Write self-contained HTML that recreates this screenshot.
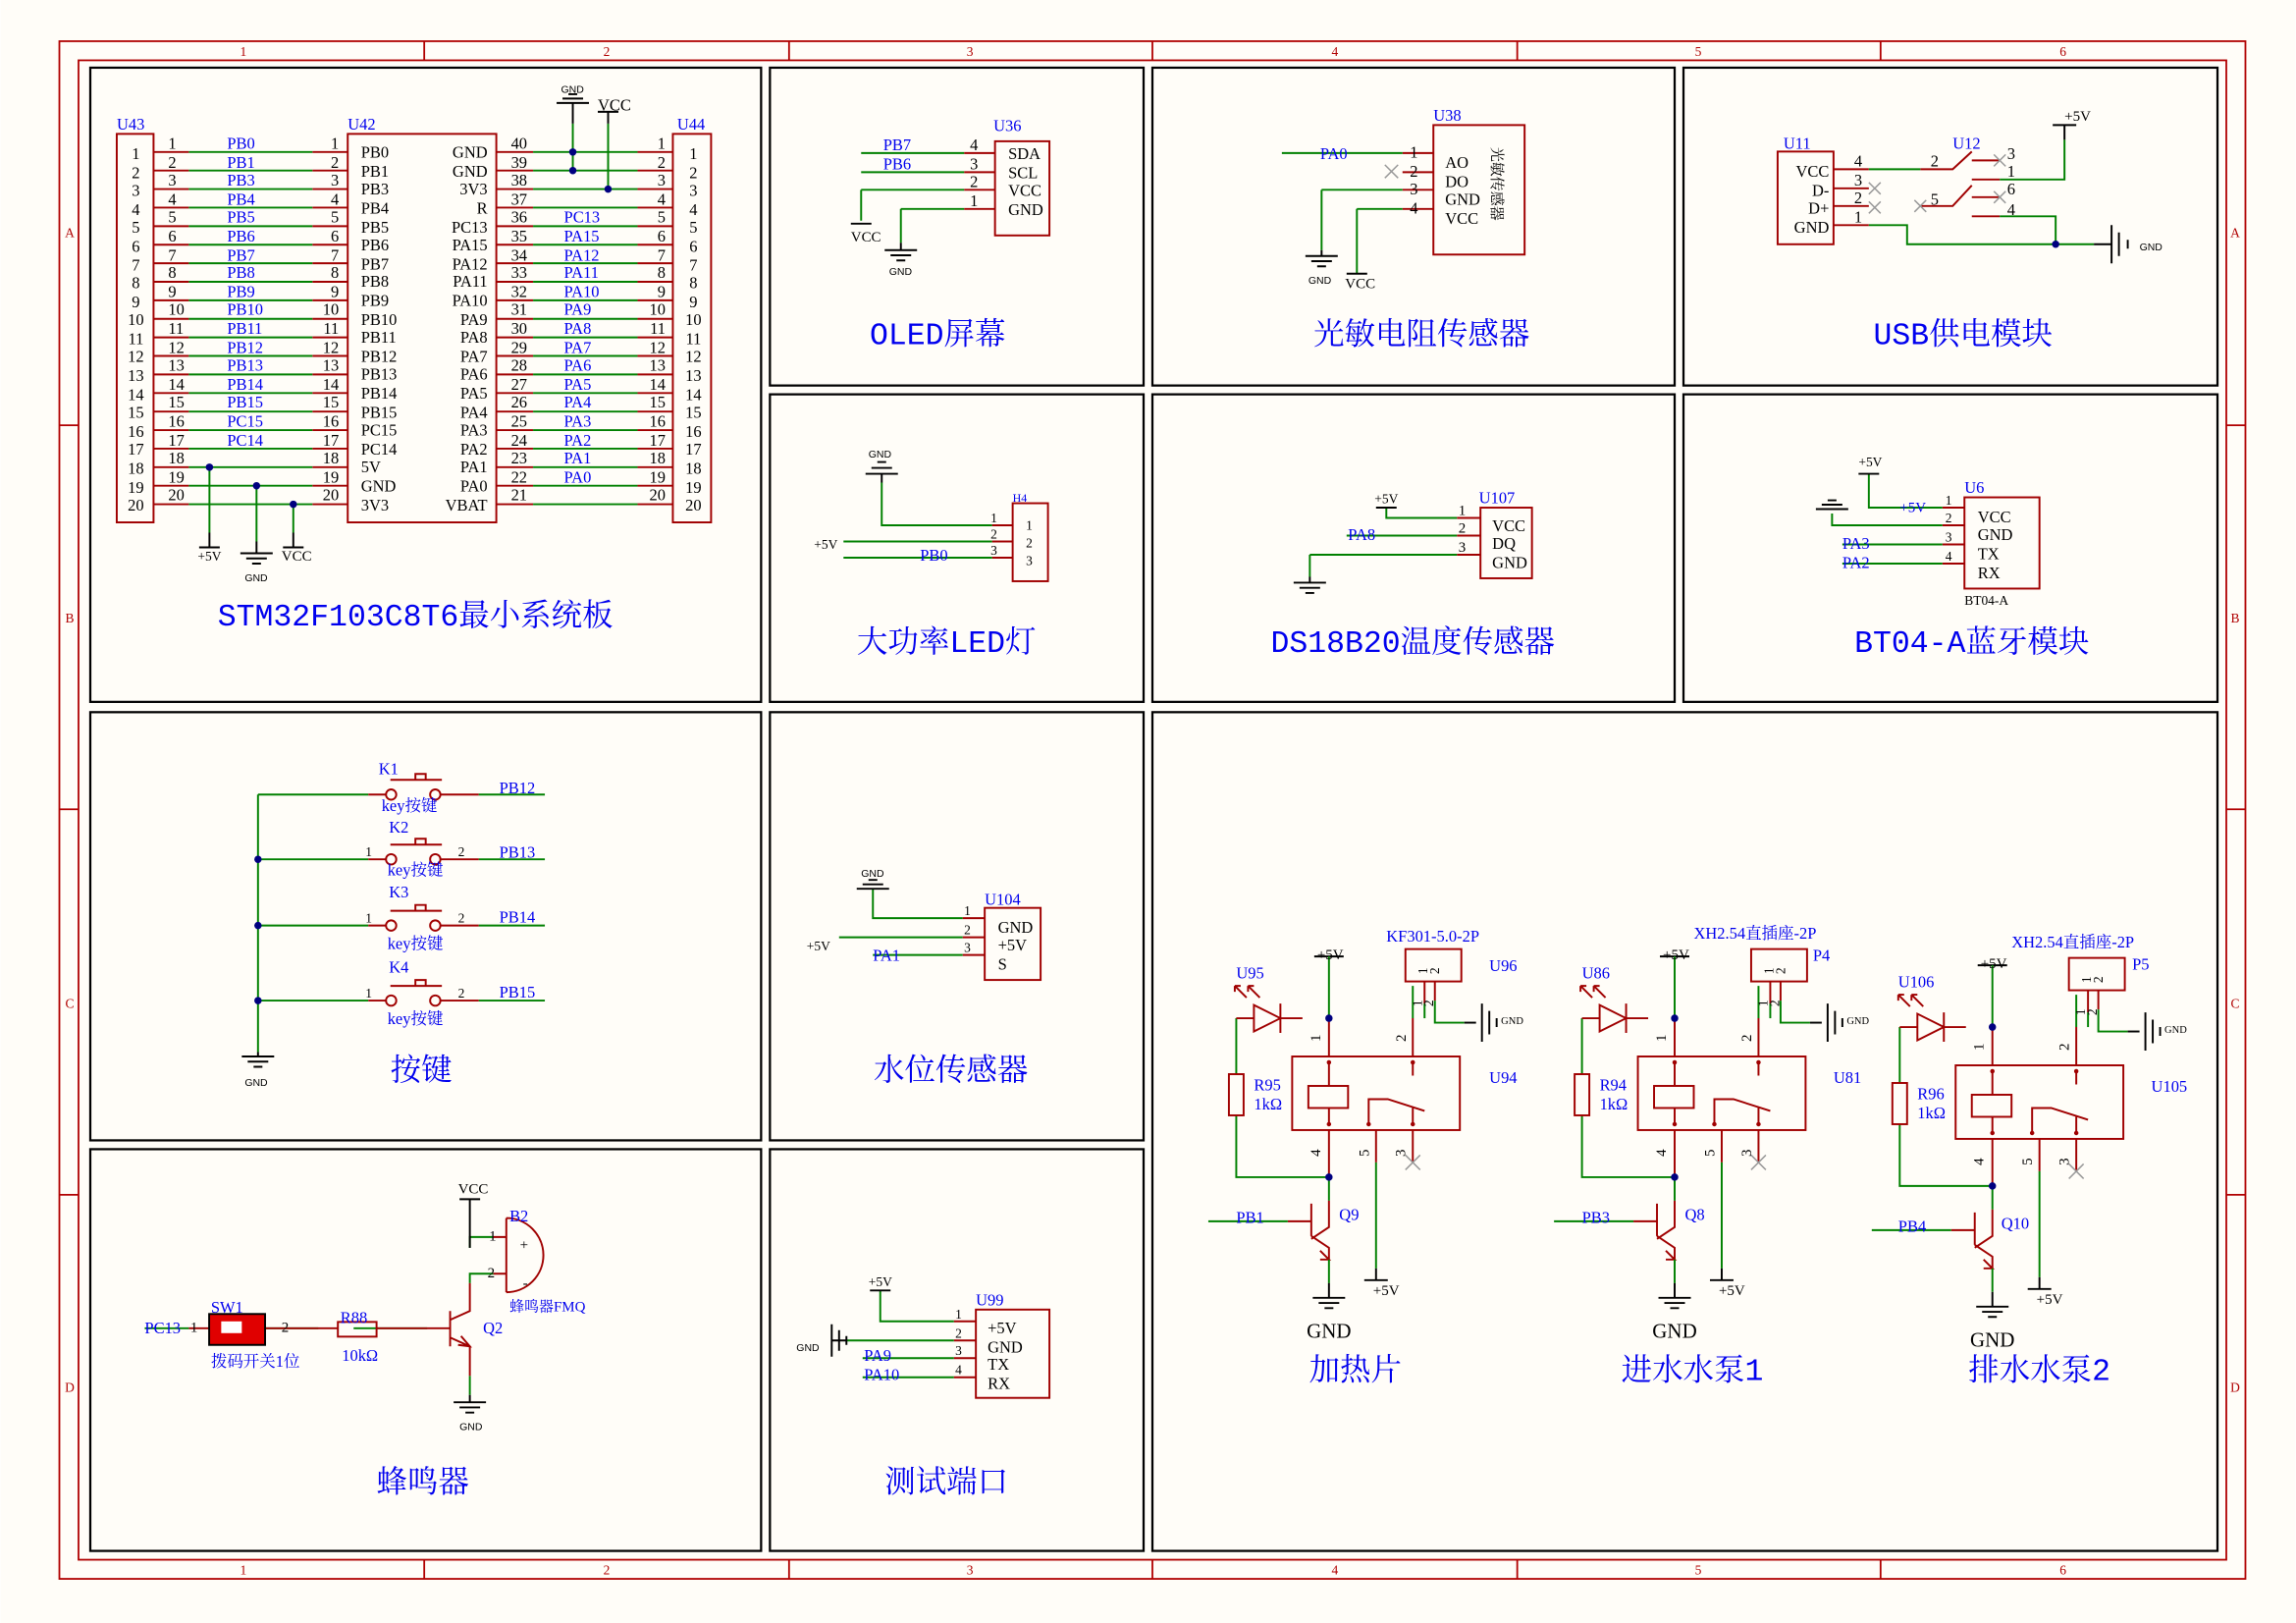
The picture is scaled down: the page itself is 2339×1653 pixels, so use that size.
<!DOCTYPE html>
<html><head><meta charset="utf-8"><style>
html,body{margin:0;padding:0;background:#fff;}
svg{display:block}
.r{stroke:#a00000;fill:none;stroke-width:1.3}
.g{stroke:#008000;fill:none;stroke-width:1.3}
.k{stroke:#000;fill:none;stroke-width:1.3}
.fr{stroke:#b00000;fill:none;stroke-width:1.2}
text{font-family:"Liberation Serif","Noto Serif CJK SC",serif;}
.b{fill:#0000ee;font-size:11px}
.n{fill:#000;font-size:11px}
.s{fill:#000;font-size:11px;font-family:"Liberation Sans","Noto Sans CJK SC",sans-serif}
.t{fill:#0000ee;font-size:21px;font-family:"Liberation Mono","Noto Serif CJK SC",serif;text-anchor:middle}
.x{stroke:#999;stroke-width:1;fill:none}
.d{fill:#000080}
</style></head><body>
<svg width="2339" height="1653" viewBox="0 0 1560 1103" xmlns="http://www.w3.org/2000/svg">
<defs>
<g id="gnd"><path d="M-11 0H11M-7 3.5H7M-3 7H3" stroke="#000" stroke-width="1.3" fill="none"/></g>
<g id="gndv"><path d="M0 -13V13M5 -8V8M10 -3V3" stroke="#000" stroke-width="1.3" fill="none"/></g>
<g id="relay">
<path class="k" d="M0 -42H-10M0 -42H10"/>
<path class="g" d="M0 -42V0M-63 0V38M-63 66V108H0"/>
<path class="r" d="M0 0V26M-18 0H-33M-51 0H-63"/>
<path class="r" d="M-33 -10V10M-33 0L-51 -9V9Z"/>
<path class="r" d="M-56 -14L-64 -22M-64 -22v4M-64 -22h4M-47 -14L-55 -22M-55 -22v4M-55 -22h4"/>
<rect class="r" x="-68" y="38" width="10" height="28"/>
<rect class="r" x="-25" y="26" width="114" height="50"/>
<path class="r" d="M0 30V46M0 61V72M57 30V39M57 61V72M27 72V55H40L65 63"/>
<rect class="r" x="-14" y="46" width="27" height="15"/>
<circle style="fill:#a00000" cx="0" cy="30" r="1.5"/><circle style="fill:#a00000" cx="0" cy="72" r="1.5"/><circle style="fill:#a00000" cx="57" cy="30" r="1.5"/><circle style="fill:#a00000" cx="57" cy="72" r="1.5"/><circle style="fill:#a00000" cx="27" cy="72" r="1.5"/>
<path class="r" d="M0 76V108M32 76V98M57 76V98"/>
<path class="g" d="M32 98V170M0 108V124"/>
<path class="k" d="M24 178H40M32 170V178"/>
<path class="x" d="M52 93L62 103M62 93L52 103"/>
<path class="r" d="M57 26V0M0 124V142L-12 150M-12 126V148M-12 148L0 156V164M-12 138H-28M-6 158L0 164L-6 164"/>
<path class="g" d="M-28 138H-82M0 164V180M57 0V-22"/>
<path class="k" d="M0 180V190"/>
<use href="#gnd" x="0" y="190"/>
<rect class="r" x="52" y="-47" width="38" height="22"/>
<path class="r" d="M65 -25V-10"/>
<path class="g" d="M65 -10V0"/>
<path class="r" d="M72 -25V-12"/><path class="g" d="M72 -12V3H92"/><path class="k" d="M92 3H100"/>
<use href="#gndv" x="104" y="3"/>
<circle class="d" cx="0" cy="0" r="2.5"/><circle class="d" cx="0" cy="108" r="2.5"/>
<text class="n" x="-6" y="16" transform="rotate(-90 -6 16)" style="font-size:10px">1</text>
<text class="n" x="52" y="16" transform="rotate(-90 52 16)" style="font-size:10px">2</text>
<text class="n" x="-6" y="94" transform="rotate(-90 -6 94)" style="font-size:10px">4</text>
<text class="n" x="27" y="94" transform="rotate(-90 27 94)" style="font-size:10px">5</text>
<text class="n" x="52" y="94" transform="rotate(-90 52 94)" style="font-size:10px">3</text>
<text class="n" x="63" y="-8" transform="rotate(-90 63 -8)" style="font-size:9px">1</text>
<text class="n" x="71" y="-8" transform="rotate(-90 71 -8)" style="font-size:9px">2</text>
<text class="n" x="67" y="-30" transform="rotate(-90 67 -30)" style="font-size:9px">1</text>
<text class="n" x="75" y="-30" transform="rotate(-90 75 -30)" style="font-size:9px">2</text>
</g>
</defs>
<rect width="1560" height="1103" fill="#fffdf8"/>
<rect class="fr" x="40" y="28" width="1486" height="1045"/>
<rect class="fr" x="53" y="41" width="1460" height="1019"/>
<path class="fr" d="M288 28V41M536 28V41M783 28V41M1031 28V41M1278 28V41M288 1060V1073M536 1060V1073M783 1060V1073M1031 1060V1073M1278 1060V1073M40 289H53M40 550H53M40 812H53M1513 289H1526M1513 550H1526M1513 812H1526"/>
<g style="fill:#b00000;font-size:9px;font-family:'Liberation Sans',sans-serif" text-anchor="middle">
<text x="165" y="38">1</text><text x="412" y="38">2</text><text x="659" y="38">3</text><text x="907" y="38">4</text><text x="1154" y="38">5</text><text x="1402" y="38">6</text>
<text x="165" y="1070">1</text><text x="412" y="1070">2</text><text x="659" y="1070">3</text><text x="907" y="1070">4</text><text x="1154" y="1070">5</text><text x="1402" y="1070">6</text>
<text x="47" y="161">A</text><text x="47" y="423">B</text><text x="47" y="685">C</text><text x="47" y="946">D</text>
<text x="1519" y="161">A</text><text x="1519" y="423">B</text><text x="1519" y="685">C</text><text x="1519" y="946">D</text>
</g>
<g class="k" style="stroke-width:1.5">
<rect x="61" y="46" width="456" height="431"/>
<rect x="523" y="46" width="254" height="216"/>
<rect x="783" y="46" width="355" height="216"/>
<rect x="1144" y="46" width="363" height="216"/>
<rect x="523" y="268" width="254" height="209"/>
<rect x="783" y="268" width="355" height="209"/>
<rect x="1144" y="268" width="363" height="209"/>
<rect x="61" y="484" width="456" height="291"/>
<rect x="523" y="484" width="254" height="291"/>
<rect x="783" y="484" width="724" height="570"/>
<rect x="61" y="781" width="456" height="273"/>
<rect x="523" y="781" width="254" height="273"/>
</g>

<rect class="r" x="79" y="91" width="25" height="264"/>
<rect class="r" x="236" y="91" width="101" height="264"/>
<rect class="r" x="457" y="91" width="26" height="264"/>
<path class="r" d="M104 103.3H128M212 103.3H236M337 103.3H362M433 103.3H457M104 115.9H128M212 115.9H236M337 115.9H362M433 115.9H457M104 128.5H128M212 128.5H236M337 128.5H362M433 128.5H457M104 141.1H128M212 141.1H236M337 141.1H362M433 141.1H457M104 153.7H128M212 153.7H236M337 153.7H362M433 153.7H457M104 166.3H128M212 166.3H236M337 166.3H362M433 166.3H457M104 178.9H128M212 178.9H236M337 178.9H362M433 178.9H457M104 191.5H128M212 191.5H236M337 191.5H362M433 191.5H457M104 204.1H128M212 204.1H236M337 204.1H362M433 204.1H457M104 216.7H128M212 216.7H236M337 216.7H362M433 216.7H457M104 229.3H128M212 229.3H236M337 229.3H362M433 229.3H457M104 241.9H128M212 241.9H236M337 241.9H362M433 241.9H457M104 254.5H128M212 254.5H236M337 254.5H362M433 254.5H457M104 267.1H128M212 267.1H236M337 267.1H362M433 267.1H457M104 279.7H128M212 279.7H236M337 279.7H362M433 279.7H457M104 292.3H128M212 292.3H236M337 292.3H362M433 292.3H457M104 304.9H128M212 304.9H236M337 304.9H362M433 304.9H457M104 317.5H128M212 317.5H236M337 317.5H362M433 317.5H457M104 330.1H128M212 330.1H236M337 330.1H362M433 330.1H457M104 342.7H128M212 342.7H236M337 342.7H362M433 342.7H457"/>
<path class="g" d="M128 103.3H212M362 103.3H433M128 115.9H212M362 115.9H433M128 128.5H212M362 128.5H433M128 141.1H212M362 141.1H433M128 153.7H212M362 153.7H433M128 166.3H212M362 166.3H433M128 178.9H212M362 178.9H433M128 191.5H212M362 191.5H433M128 204.1H212M362 204.1H433M128 216.7H212M362 216.7H433M128 229.3H212M362 229.3H433M128 241.9H212M362 241.9H433M128 254.5H212M362 254.5H433M128 267.1H212M362 267.1H433M128 279.7H212M362 279.7H433M128 292.3H212M362 292.3H433M128 304.9H212M362 304.9H433M128 317.5H212M362 317.5H433M128 330.1H212M362 330.1H433M128 342.7H212M362 342.7H433"/>
<path class="g" d="M142 317.5V362M174 330.1V368M199 342.7V362M389 84V116M413 84V128.5"/>
<path class="k" d="M142 362V372M135 372H149M199 362V372M192 372H206M174 368V376M389 70V84M413 76V84M406 76H420"/>
<use href="#gnd" x="174" y="376"/>
<path class="k" d="M378 70H400M382 67H396M386 64H392"/>
<circle class="d" cx="142" cy="317.5" r="2.5"/><circle class="d" cx="174" cy="330.1" r="2.5"/><circle class="d" cx="199" cy="342.7" r="2.5"/>
<circle class="d" cx="389" cy="103.3" r="2.5"/><circle class="d" cx="389" cy="115.9" r="2.5"/><circle class="d" cx="413" cy="128.5" r="2.5"/>
<text class="b" x="79" y="88">U43</text><text class="b" x="236" y="88">U42</text><text class="b" x="460" y="88">U44</text>
<text class="s" x="381" y="63" style="font-size:7px">GND</text><text class="n" x="406" y="75">VCC</text>
<text class="n" x="134" y="381" style="font-size:9px">+5V</text><text class="s" x="166" y="395" style="font-size:7px">GND</text><text class="n" x="191" y="381" style="font-size:10px">VCC</text>
<g class="n" text-anchor="middle">
<text x="92" y="108">1</text><text x="92" y="121">2</text><text x="92" y="133">3</text><text x="92" y="146">4</text><text x="92" y="158">5</text><text x="92" y="171">6</text><text x="92" y="184">7</text><text x="92" y="196">8</text><text x="92" y="209">9</text><text x="92" y="221">10</text><text x="92" y="234">11</text><text x="92" y="246">12</text><text x="92" y="259">13</text><text x="92" y="272">14</text><text x="92" y="284">15</text><text x="92" y="297">16</text><text x="92" y="309">17</text><text x="92" y="322">18</text><text x="92" y="335">19</text><text x="92" y="347">20</text>
<text x="471" y="108">1</text><text x="471" y="121">2</text><text x="471" y="133">3</text><text x="471" y="146">4</text><text x="471" y="158">5</text><text x="471" y="171">6</text><text x="471" y="184">7</text><text x="471" y="196">8</text><text x="471" y="209">9</text><text x="471" y="221">10</text><text x="471" y="234">11</text><text x="471" y="246">12</text><text x="471" y="259">13</text><text x="471" y="272">14</text><text x="471" y="284">15</text><text x="471" y="297">16</text><text x="471" y="309">17</text><text x="471" y="322">18</text><text x="471" y="335">19</text><text x="471" y="347">20</text>
</g>
<g class="n">
<text x="114" y="101">1</text><text x="114" y="114">2</text><text x="114" y="126">3</text><text x="114" y="139">4</text><text x="114" y="151">5</text><text x="114" y="164">6</text><text x="114" y="177">7</text><text x="114" y="189">8</text><text x="114" y="202">9</text><text x="114" y="214">10</text><text x="114" y="227">11</text><text x="114" y="240">12</text><text x="114" y="252">13</text><text x="114" y="265">14</text><text x="114" y="277">15</text><text x="114" y="290">16</text><text x="114" y="303">17</text><text x="114" y="315">18</text><text x="114" y="328">19</text><text x="114" y="340">20</text>
</g>
<g class="n" text-anchor="end">
<text x="230" y="101">1</text><text x="230" y="114">2</text><text x="230" y="126">3</text><text x="230" y="139">4</text><text x="230" y="151">5</text><text x="230" y="164">6</text><text x="230" y="177">7</text><text x="230" y="189">8</text><text x="230" y="202">9</text><text x="230" y="214">10</text><text x="230" y="227">11</text><text x="230" y="240">12</text><text x="230" y="252">13</text><text x="230" y="265">14</text><text x="230" y="277">15</text><text x="230" y="290">16</text><text x="230" y="303">17</text><text x="230" y="315">18</text><text x="230" y="328">19</text><text x="230" y="340">20</text>
<text x="452" y="101">1</text><text x="452" y="114">2</text><text x="452" y="126">3</text><text x="452" y="139">4</text><text x="452" y="151">5</text><text x="452" y="164">6</text><text x="452" y="177">7</text><text x="452" y="189">8</text><text x="452" y="202">9</text><text x="452" y="214">10</text><text x="452" y="227">11</text><text x="452" y="240">12</text><text x="452" y="252">13</text><text x="452" y="265">14</text><text x="452" y="277">15</text><text x="452" y="290">16</text><text x="452" y="303">17</text><text x="452" y="315">18</text><text x="452" y="328">19</text><text x="452" y="340">20</text>
</g>
<g class="n">
<text x="347" y="101">40</text><text x="347" y="114">39</text><text x="347" y="126">38</text><text x="347" y="139">37</text><text x="347" y="151">36</text><text x="347" y="164">35</text><text x="347" y="177">34</text><text x="347" y="189">33</text><text x="347" y="202">32</text><text x="347" y="214">31</text><text x="347" y="227">30</text><text x="347" y="240">29</text><text x="347" y="252">28</text><text x="347" y="265">27</text><text x="347" y="277">26</text><text x="347" y="290">25</text><text x="347" y="303">24</text><text x="347" y="315">23</text><text x="347" y="328">22</text><text x="347" y="340">21</text>
</g>
<g class="b">
<text x="154" y="101">PB0</text><text x="154" y="114">PB1</text><text x="154" y="126">PB3</text><text x="154" y="139">PB4</text><text x="154" y="151">PB5</text><text x="154" y="164">PB6</text><text x="154" y="177">PB7</text><text x="154" y="189">PB8</text><text x="154" y="202">PB9</text><text x="154" y="214">PB10</text><text x="154" y="227">PB11</text><text x="154" y="240">PB12</text><text x="154" y="252">PB13</text><text x="154" y="265">PB14</text><text x="154" y="277">PB15</text><text x="154" y="290">PC15</text><text x="154" y="303">PC14</text>
<text x="383" y="151">PC13</text><text x="383" y="164">PA15</text><text x="383" y="177">PA12</text><text x="383" y="189">PA11</text><text x="383" y="202">PA10</text><text x="383" y="214">PA9</text><text x="383" y="227">PA8</text><text x="383" y="240">PA7</text><text x="383" y="252">PA6</text><text x="383" y="265">PA5</text><text x="383" y="277">PA4</text><text x="383" y="290">PA3</text><text x="383" y="303">PA2</text><text x="383" y="315">PA1</text><text x="383" y="328">PA0</text>
</g>
<g class="s">
<text x="245" y="107">PB0</text><text x="245" y="120">PB1</text><text x="245" y="132">PB3</text><text x="245" y="145">PB4</text><text x="245" y="158">PB5</text><text x="245" y="170">PB6</text><text x="245" y="183">PB7</text><text x="245" y="195">PB8</text><text x="245" y="208">PB9</text><text x="245" y="221">PB10</text><text x="245" y="233">PB11</text><text x="245" y="246">PB12</text><text x="245" y="258">PB13</text><text x="245" y="271">PB14</text><text x="245" y="284">PB15</text><text x="245" y="296">PC15</text><text x="245" y="309">PC14</text><text x="245" y="321">5V</text><text x="245" y="334">GND</text><text x="245" y="347">3V3</text>
</g>
<g class="s" text-anchor="end">
<text x="331" y="107">GND</text><text x="331" y="120">GND</text><text x="331" y="132">3V3</text><text x="331" y="145">R</text><text x="331" y="158">PC13</text><text x="331" y="170">PA15</text><text x="331" y="183">PA12</text><text x="331" y="195">PA11</text><text x="331" y="208">PA10</text><text x="331" y="221">PA9</text><text x="331" y="233">PA8</text><text x="331" y="246">PA7</text><text x="331" y="258">PA6</text><text x="331" y="271">PA5</text><text x="331" y="284">PA4</text><text x="331" y="296">PA3</text><text x="331" y="309">PA2</text><text x="331" y="321">PA1</text><text x="331" y="334">PA0</text><text x="331" y="347">VBAT</text>
</g>
<text class="t" x="282" y="425">STM32F103C8T6最小系统板</text>

<rect class="r" x="676" y="96" width="37" height="64"/>
<path class="r" d="M655 104H676M655 117H676M655 129H676M655 142H676"/>
<path class="g" d="M585 104H655M585 117H655M585 129H655M612 142H655M585 129V150M612 142V165"/>
<path class="k" d="M578 152H592M612 165V170"/><use href="#gnd" x="612" y="170"/>
<text class="b" x="675" y="89">U36</text>
<g class="b"><text x="600" y="102">PB7</text><text x="600" y="115">PB6</text></g>
<g class="n"><text x="659" y="102">4</text><text x="659" y="115">3</text><text x="659" y="127">2</text><text x="659" y="140">1</text></g>
<g class="s"><text x="685" y="108">SDA</text><text x="685" y="121">SCL</text><text x="685" y="133">VCC</text><text x="685" y="146">GND</text></g>
<text class="n" x="578" y="164" style="font-size:10px">VCC</text><text class="s" x="604" y="187" style="font-size:7px">GND</text>
<text class="t" x="637" y="234">OLED屏幕</text>

<rect class="r" x="974" y="85" width="62" height="88"/>
<path class="r" d="M953 104H974M953 117H974M953 129H974M953 142H974"/>
<path class="g" d="M871 104H953M898 129H953M922 142H953M898 129V170M922 142V186"/>
<path class="x" d="M941 112L950 121M950 112L941 121"/>
<path class="k" d="M898 170V174M915 186H929"/><use href="#gnd" x="898" y="174"/>
<text class="b" x="974" y="82">U38</text>
<text class="b" x="897" y="108">PA0</text>
<g class="n"><text x="958" y="107">1</text><text x="958" y="120">2</text><text x="958" y="132">3</text><text x="958" y="145">4</text></g>
<g class="n"><text x="982" y="114">AO</text><text x="982" y="127">DO</text><text x="982" y="139">GND</text><text x="982" y="152">VCC</text></g>
<text class="n" x="1014" y="100" transform="rotate(90 1014 100)" style="font-size:10px">光敏传感器</text>
<text class="s" x="889" y="193" style="font-size:7px">GND</text><text class="n" x="914" y="196" style="font-size:10px">VCC</text>
<text class="t" x="966" y="234">光敏电阻传感器</text>

<rect class="r" x="1208" y="103" width="38" height="63"/>
<path class="r" d="M1246 115H1270M1246 128H1270M1246 140H1270M1246 153H1270M1305 115H1327L1340 103M1340 109H1359M1340 122H1359M1305 140H1327L1340 126M1340 134H1359M1340 147H1359"/>
<path class="g" d="M1270 115H1305M1270 153H1296V166H1423M1359 122H1403V95M1359 147H1397V166"/>
<path class="k" d="M1403 95V85M1395 85H1411M1423 166H1435"/>
<path class="k" d="M1435 153V179M1440 158V174M1446 163V169"/>
<path class="x" d="M1270 124L1278 132M1278 124L1270 132M1270 137L1278 145M1278 137L1270 145M1355 105L1363 113M1363 105L1355 113M1355 130L1363 138M1363 130L1355 138M1301 136L1309 144M1309 136L1301 144"/>
<circle class="d" cx="1397" cy="166" r="2.5"/>
<text class="b" x="1212" y="101">U11</text><text class="b" x="1327" y="101">U12</text>
<g class="n"><text x="1260" y="113">4</text><text x="1260" y="126">3</text><text x="1260" y="138">2</text><text x="1260" y="151">1</text><text x="1312" y="113">2</text><text x="1312" y="139">5</text><text x="1364" y="108">3</text><text x="1364" y="120">1</text><text x="1364" y="132">6</text><text x="1364" y="146">4</text></g>
<g class="n" text-anchor="end"><text x="1243" y="120">VCC</text><text x="1243" y="133">D-</text><text x="1243" y="145">D+</text><text x="1243" y="158">GND</text></g>
<text class="n" x="1403" y="82" style="font-size:10px">+5V</text><text class="s" x="1454" y="170" style="font-size:7px">GND</text>
<text class="t" x="1334" y="234">USB供电模块</text>

<rect class="r" x="688" y="342" width="24" height="53"/>
<path class="r" d="M674 357H688M674 368H688M674 379H688"/>
<path class="g" d="M599 328V357H674M573 368H674M573 379H674"/>
<path class="k" d="M588 322H610M592 318H606M596 314H602M599 322V328"/>
<text class="s" x="590" y="311" style="font-size:7px">GND</text>
<text class="b" x="688" y="341" style="font-size:8px">H4</text>
<g class="n" style="font-size:9px"><text x="673" y="355">1</text><text x="673" y="366">2</text><text x="673" y="377">3</text><text x="697" y="360">1</text><text x="697" y="372">2</text><text x="697" y="384">3</text></g>
<text class="n" x="553" y="373" style="font-size:9px">+5V</text><text class="b" x="625" y="381">PB0</text>
<text class="t" x="643" y="443">大功率LED灯</text>

<rect class="r" x="1006" y="345" width="35" height="48"/>
<path class="r" d="M990 352H1006M990 364H1006M990 377H1006"/>
<path class="g" d="M942 345V352H990M915 364H990M890 377H990M890 377V392"/>
<path class="k" d="M935 345H949"/><use href="#gnd" x="890" y="396"/><path class="k" d="M890 392V396"/>
<text class="b" x="1005" y="342">U107</text><text class="n" x="934" y="342" style="font-size:9px">+5V</text>
<text class="b" x="916" y="367">PA8</text>
<g class="n" style="font-size:10px"><text x="991" y="350">1</text><text x="991" y="362">2</text><text x="991" y="375">3</text></g>
<g class="n"><text x="1014" y="361">VCC</text><text x="1014" y="373">DQ</text><text x="1014" y="386">GND</text></g>
<text class="t" x="960" y="443">DS18B20温度传感器</text>

<rect class="r" x="1335" y="338" width="51" height="62"/>
<path class="r" d="M1320 345H1335M1320 357H1335M1320 370H1335M1320 383H1335"/>
<path class="g" d="M1270 322V345H1320M1245 349V357H1320M1252 370H1320M1252 383H1320"/>
<path class="k" d="M1263 322H1277M1234 346H1256M1238 343H1252M1242 340H1248"/>
<text class="n" x="1263" y="317" style="font-size:9px">+5V</text><text class="b" x="1291" y="348" style="font-size:10px">+5V</text>
<text class="b" x="1335" y="335">U6</text>
<g class="b"><text x="1252" y="373">PA3</text><text x="1252" y="386">PA2</text></g>
<g class="n" style="font-size:9px"><text x="1322" y="343">1</text><text x="1322" y="355">2</text><text x="1322" y="368">3</text><text x="1322" y="381">4</text></g>
<g class="n"><text x="1344" y="355">VCC</text><text x="1344" y="367">GND</text><text x="1344" y="380">TX</text><text x="1344" y="393">RX</text></g>
<text class="n" x="1335" y="411" style="font-size:9px">BT04-A</text>
<text class="t" x="1340" y="443">BT04-A蓝牙模块</text>

<path class="g" d="M175 540V715M175 540H250M175 584H250M175 629H250M175 680H250M325 540H370M325 584H370M325 629H370M325 680H370"/>
<g id="btn"><path class="r" d="M250 540H262M299 540H325M265 530H300M282 530V526H289V530"/><circle class="r" cx="265.5" cy="540" r="3.5"/><circle class="r" cx="295.5" cy="540" r="3.5"/></g>
<use href="#btn" y="44"/><use href="#btn" y="89"/><use href="#btn" y="140"/>
<circle class="d" cx="175" cy="584" r="2.5"/><circle class="d" cx="175" cy="629" r="2.5"/><circle class="d" cx="175" cy="680" r="2.5"/>
<use href="#gnd" x="175" y="718"/><path class="k" d="M175 715V718"/>
<text class="s" x="166" y="738" style="font-size:7px">GND</text>
<g class="b"><text x="257" y="526">K1</text><text x="264" y="566">K2</text><text x="264" y="610">K3</text><text x="264" y="661">K4</text>
<text x="259" y="551">key按键</text><text x="263" y="595">key按键</text><text x="263" y="645">key按键</text><text x="263" y="696">key按键</text>
<text x="339" y="539">PB12</text><text x="339" y="583">PB13</text><text x="339" y="627">PB14</text><text x="339" y="678">PB15</text></g>
<g class="n" style="font-size:9px"><text x="248" y="582">1</text><text x="311" y="582">2</text><text x="248" y="627">1</text><text x="311" y="627">2</text><text x="248" y="678">1</text><text x="311" y="678">2</text></g>
<text class="t" x="286" y="734">按键</text>

<rect class="r" x="669" y="617" width="38" height="49"/>
<path class="r" d="M654 624H669M654 637H669M654 649H669"/>
<path class="g" d="M593 604V624H654M570 637H654M593 649H654"/>
<path class="k" d="M582 604H604M586 601H600M590 598H596"/>
<text class="s" x="585" y="596" style="font-size:7px">GND</text><text class="n" x="548" y="646" style="font-size:9px">+5V</text>
<text class="b" x="669" y="615">U104</text><text class="b" x="593" y="653">PA1</text>
<g class="n" style="font-size:9px"><text x="655" y="622">1</text><text x="655" y="635">2</text><text x="655" y="647">3</text></g>
<g class="n"><text x="678" y="634">GND</text><text x="678" y="646">+5V</text><text x="678" y="659">S</text></g>
<text class="t" x="646" y="734">水位传感器</text>

<use href="#relay" x="903" y="692"/>
<use href="#relay" x="1138" y="692"/>
<use href="#relay" x="1354" y="698"/>
<g class="b">
<text x="840" y="665">U95</text><text x="852" y="741">R95</text><text x="852" y="754">1kΩ</text><text x="942" y="640">KF301-5.0-2P</text><text x="1012" y="660">U96</text><text x="1012" y="736">U94</text><text x="910" y="829">Q9</text><text x="840" y="831">PB1</text>
<text x="1075" y="665">U86</text><text x="1087" y="741">R94</text><text x="1087" y="754">1kΩ</text><text x="1151" y="638">XH2.54直插座-2P</text><text x="1232" y="653">P4</text><text x="1246" y="736">U81</text><text x="1145" y="829">Q8</text><text x="1075" y="831">PB3</text>
<text x="1290" y="671">U106</text><text x="1303" y="747">R96</text><text x="1303" y="760">1kΩ</text><text x="1367" y="644">XH2.54直插座-2P</text><text x="1449" y="659">P5</text><text x="1462" y="742">U105</text><text x="1360" y="835">Q10</text><text x="1290" y="837">PB4</text>
</g>
<g class="n" style="font-size:10px">
<text x="895" y="652">+5V</text><text x="933" y="880">+5V</text><text x="1130" y="652">+5V</text><text x="1168" y="880">+5V</text><text x="1346" y="658">+5V</text><text x="1384" y="886">+5V</text>
</g>
<g class="s" style="font-size:7px"><text x="1020" y="696">GND</text><text x="1255" y="696">GND</text><text x="1471" y="702">GND</text></g>
<g class="n" style="font-size:14px" text-anchor="middle"><text x="903" y="909">GND</text><text x="1138" y="909">GND</text><text x="1354" y="915">GND</text></g>
<text class="t" x="921" y="938">加热片</text><text class="t" x="1150" y="938">进水水泵1</text><text class="t" x="1386" y="938">排水水泵2</text>

<path class="g" d="M98 902.7H128M158 902.7H216M240 902.7H290M319 848V840.7H335M319 872V865.6H335M319 935V948"/>
<path class="r" d="M128 902.7H142M180 902.7H229M256 902.7H305.6M305.6 891V915M305.6 897L319 891V872M305.6 909L319 915V935M335 840.7H343.8M335 865.6H343.8M313 908L319 915L311 914"/>
<rect x="141.8" y="893" width="38" height="21" fill="#e00000" stroke="#000" stroke-width="1.3"/>
<rect x="150" y="898" width="14" height="8" fill="#fff"/>
<rect class="r" x="229.3" y="898.4" width="26.3" height="10"/>
<path class="r" d="M343.8 827.8V878.2M343.8 827.8A25 25 0 0 1 343.8 878.2"/>
<path class="k" d="M319 848V815M312 815H326M319 948V953"/><use href="#gnd" x="319" y="953"/>
<text class="n" x="311" y="811" style="font-size:10px">VCC</text><text class="s" x="312" y="972" style="font-size:7px">GND</text>
<text class="b" x="98" y="906">PC13</text><text class="n" x="129" y="905" style="font-size:10px">1</text><text class="n" x="191" y="905" style="font-size:10px">2</text>
<text class="b" x="143" y="892">SW1</text><text class="b" x="143" y="929">拨码开关1位</text>
<text class="b" x="231" y="899">R88</text><text class="b" x="232" y="925">10kΩ</text>
<text class="b" x="328" y="906">Q2</text><text class="b" x="346" y="830">B2</text><text class="b" x="346" y="891" style="font-size:10px">蜂鸣器FMQ</text>
<text class="n" x="332" y="843" style="font-size:10px">1</text><text class="n" x="331" y="868" style="font-size:10px">2</text>
<text class="n" x="353" y="849" style="font-size:10px">+</text><text class="n" x="355" y="875" style="font-size:10px">-</text>
<text class="t" x="287" y="1014">蜂鸣器</text>

<rect class="r" x="663" y="890" width="50" height="60"/>
<path class="r" d="M648 898H663M648 911H663M648 923H663M648 936H663"/>
<path class="g" d="M598 877V898H648M575 911H648M586 923H648M586 936H648"/>
<path class="k" d="M591 877H605M565 911H575M565 900V922M570 904V918M575 908V914"/>
<text class="n" x="590" y="874" style="font-size:9px">+5V</text><text class="s" x="541" y="918" style="font-size:7px">GND</text>
<text class="b" x="663" y="887">U99</text>
<g class="b"><text x="587" y="925">PA9</text><text x="587" y="938">PA10</text></g>
<g class="n" style="font-size:9px"><text x="649" y="896">1</text><text x="649" y="909">2</text><text x="649" y="921">3</text><text x="649" y="934">4</text></g>
<g class="n"><text x="671" y="906">+5V</text><text x="671" y="919">GND</text><text x="671" y="931">TX</text><text x="671" y="944">RX</text></g>
<text class="t" x="643" y="1014">测试端口</text>
</svg>
</body></html>
